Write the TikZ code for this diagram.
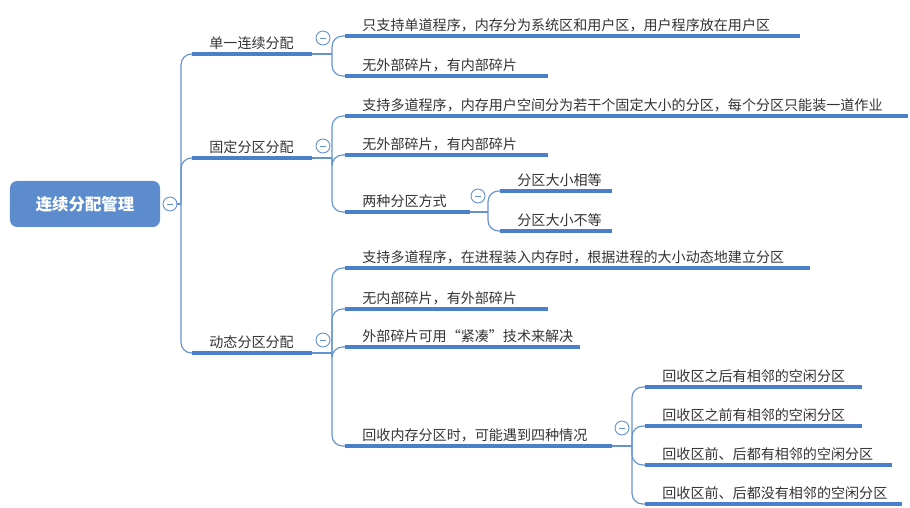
\documentclass[tikz,border=0pt]{standalone}
\usepackage{fontspec}
\setmainfont{Noto Sans CJK SC}
\usetikzlibrary{positioning}
\definecolor{linecol}{HTML}{4A7FC9}
\definecolor{txtcol}{HTML}{333333}
\tikzset{
  root/.style={rectangle, rounded corners=6pt, fill=linecol!90, text=white,
    font=\bfseries\fontsize{14}{16}\selectfont, minimum width=150*0.3mm, minimum height=46*0.3mm},
  leaf/.style={anchor=south west, text=txtcol, inner xsep=1pt, inner ysep=3.5pt, font=\fontsize{12}{14}\selectfont},
  uline/.style={draw=linecol, line width=2.8pt},
  conn/.style={draw=linecol!85, line width=1pt, rounded corners=9pt},
  fold/.style={circle, draw=linecol!85, fill=white, line width=0.8pt, minimum size=14*0.3mm, inner sep=0pt,
    path picture={\draw[linecol!85, line width=0.8pt] ([xshift=-2.2pt]path picture bounding box.center) -- ([xshift=2.2pt]path picture bounding box.center);}}
}
% name, start x, underline y, end x, text
\newcommand\leaf[5]{%
  \draw[uline] (#2,#3) coordinate (#1-s) -- (#4,#3) coordinate (#1-e);
  \node[leaf] (#1) at ([xshift=16*0.3mm]#1-s) {#5};}
\begin{document}
\begin{tikzpicture}[x=0.03cm, y=-0.03cm]
  \useasboundingbox (0,0) rectangle (910,508);
  % root
  \node[root] (main) at (85,204) {连续分配管理};
  \node[fold] (f0) at (170,204) {};
  \coordinate (k0) at (181,204);
  \draw[conn] (f0) -- (k0);
  % level one
  \leaf{single}{192}{54}{312}{单一连续分配}
  \leaf{fixed}{192}{158}{312}{固定分区分配}
  \leaf{dyn}{192}{353}{312}{动态分区分配}
  \foreach \n in {single,fixed,dyn} \draw[conn] (k0) |- (\n-s);
  % single
  \node[fold] (f1) at (323,38) {};
  \coordinate (k1) at (332,54);
  \draw[conn, rounded corners=0pt] (single-e) -- (k1);
  \leaf{s1}{345}{36}{800}{只支持单道程序，内存分为系统区和用户区，用户程序放在用户区}
  \leaf{s2}{345}{76}{548}{无外部碎片，有内部碎片}
  \foreach \n in {s1,s2} \draw[conn] (k1) |- (\n-s);
  % fixed
  \node[fold] (f2) at (323,146) {};
  \coordinate (k2) at (332,158);
  \draw[conn, rounded corners=0pt] (fixed-e) -- (k2);
  \leaf{p1}{345}{116}{908}{支持多道程序，内存用户空间分为若干个固定大小的分区，每个分区只能装一道作业}
  \leaf{p2}{345}{155}{548}{无外部碎片，有内部碎片}
  \leaf{p3}{345}{212}{470}{两种分区方式}
  \foreach \n in {p1,p2,p3} \draw[conn] (k2) |- (\n-s);
  \node[fold] (f3) at (478,196) {};
  \coordinate (k3) at (488,212);
  \draw[conn, rounded corners=0pt] (p3-e) -- (k3);
  \leaf{q1}{500}{191}{612}{分区大小相等}
  \leaf{q2}{500}{231}{612}{分区大小不等}
  \foreach \n in {q1,q2} \draw[conn] (k3) |- (\n-s);
  % dynamic
  \node[fold] (f4) at (323,340) {};
  \coordinate (k4) at (332,353);
  \draw[conn, rounded corners=0pt] (dyn-e) -- (k4);
  \leaf{d1}{345}{268}{810}{支持多道程序，在进程装入内存时，根据进程的大小动态地建立分区}
  \leaf{d2}{345}{309}{548}{无内部碎片，有外部碎片}
  \leaf{d3}{345}{347}{580}{外部碎片可用“紧凑”技术来解决}
  \leaf{d4}{345}{446}{612}{回收内存分区时，可能遇到四种情况}
  \foreach \n in {d1,d2,d3,d4} \draw[conn] (k4) |- (\n-s);
  \node[fold] (f5) at (622,428) {};
  \coordinate (k5) at (632,446);
  \draw[conn, rounded corners=0pt] (d4-e) -- (k5);
  \leaf{r1}{645}{387}{862}{回收区之后有相邻的空闲分区}
  \leaf{r2}{645}{426}{862}{回收区之前有相邻的空闲分区}
  \leaf{r3}{645}{465}{892}{回收区前、后都有相邻的空闲分区}
  \leaf{r4}{645}{504}{902}{回收区前、后都没有相邻的空闲分区}
  \foreach \n in {r1,r2,r3,r4} \draw[conn] (k5) |- (\n-s);
\end{tikzpicture}
\end{document}
